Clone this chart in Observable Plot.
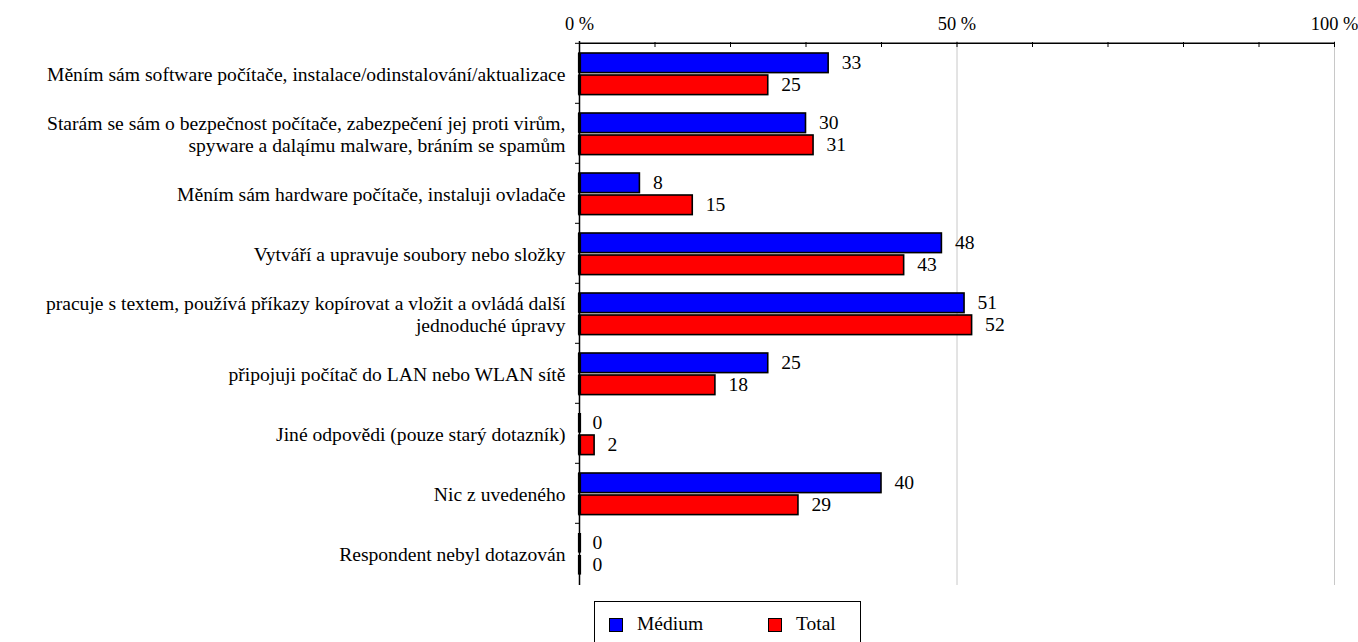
<!DOCTYPE html>
<html><head><meta charset="utf-8">
<script src="https://cdn.jsdelivr.net/npm/d3@7"></script>
<script src="https://cdn.jsdelivr.net/npm/@observablehq/plot@0.6"></script>
<style>
body{margin:0;background:#fff;font-family:'Liberation Serif';}
#wrap{position:relative;width:1358px;height:642px;overflow:hidden;}
#legend{position:absolute;left:594px;top:601px;width:267px;height:60px;border:1.5px solid #000;box-sizing:border-box;font-size:19.5px;}
.sw{position:absolute;top:16px;width:14px;height:14px;border:1.5px solid #000;box-sizing:border-box;}
.lt{position:absolute;top:12px;line-height:1;}
</style></head>
<body><div id="wrap"><div id="chart"></div>
<div id="legend"></div></div>
<script>
const categories = [
  "Měním sám software počítače, instalace/odinstalování/aktualizace",
  "Starám se sám o bezpečnost počítače, zabezpečení jej proti virům,\nspyware a daląímu malware, bráním se spamům",
  "Měním sám hardware počítače, instaluji ovladače",
  "Vytváří a upravuje soubory nebo složky",
  "pracuje s textem, používá příkazy kopírovat a vložit a ovládá další\njednoduché úpravy",
  "připojuji počítač do LAN nebo WLAN sítě",
  "Jiné odpovědi (pouze starý dotazník)",
  "Nic z uvedeného",
  "Respondent nebyl dotazován"
];
const seriesNames = ["Médium", "Total"];
const seriesColors = ["#0000ff", "#ff0000"];
const medium = [33, 30, 8, 48, 51, 25, 0, 40, 0];
const total = [25, 31, 15, 43, 52, 18, 2, 29, 0];
const xTicks = [0, 10, 20, 30, 40, 50, 60, 70, 80, 90, 100];
const xLabels = [0, 50, 100];

const med = categories.map((c, i) => ({cat: c, v: medium[i]}));
const tot = categories.map((c, i) => ({cat: c, v: total[i]}));

const font = "'Liberation Serif'";
const fs = 19.6;
const barStyle = [
  {insetTop: 10, insetBottom: 30.4, dy: -10.5},
  {insetTop: 32, insetBottom: 8.4, dy: 11.5}
];

function series(data, k) {
  const s = barStyle[k];
  return [
    Plot.barX(data, {x: "v", y: "cat", fill: seriesColors[k], stroke: "#000", strokeWidth: 1.6, insetTop: s.insetTop, insetBottom: s.insetBottom}),
    Plot.tickX(data, {x: 0, y: "cat", stroke: "#000", strokeWidth: 3.2, insetTop: s.insetTop, insetBottom: s.insetBottom}),
    Plot.text(data, {x: "v", y: "cat", text: d => String(d.v), dx: 13, dy: s.dy, textAnchor: "start", fontSize: fs, fill: "#000"})
  ];
}

const chart = Plot.plot({
  width: 1358,
  height: 595,
  marginLeft: 579,
  marginRight: 24,
  marginTop: 41,
  marginBottom: 10,
  style: {fontFamily: font, fontSize: fs + "px", color: "#000", background: "#fff", overflow: "visible"},
  x: {domain: [0, 100]},
  y: {domain: categories, padding: 0},
  marks: [
    Plot.ruleX(xLabels.filter(d => d > 0), {x: d => d, stroke: "#c8c8c8", strokeWidth: 1}),
    Plot.axisX(xTicks, {anchor: "top", tickSize: -5, text: null, label: null, stroke: "#000"}),
    Plot.axisX(xLabels, {anchor: "top", tickSize: 0, tickPadding: 12, tickFormat: d => d + " %", fontSize: 18.4, fill: "#000", label: null}),
    Plot.axisY({anchor: "left", tickSize: 4, dy: -30.2, text: null, label: null, stroke: "#000"}),
    Plot.axisY({anchor: "left", tickSize: 0, tickPadding: 14, fontSize: fs, fill: "#000", label: null, lineHeight: 1.12}),
    Plot.ruleY([0], {y: () => categories[0], x1: 0, x2: 100, dy: -30.2, stroke: "#000", strokeWidth: 1.5}),
    Plot.ruleX([0], {stroke: "#000", strokeWidth: 1.5}),
    ...series(med, 0),
    ...series(tot, 1)
  ]
});
document.getElementById("chart").appendChild(chart);

const lg = document.getElementById("legend");
const pos = [[14, 42], [173, 201]];
seriesNames.forEach((n, i) => {
  const sw = document.createElement("div");
  sw.className = "sw"; sw.style.left = pos[i][0] + "px"; sw.style.background = seriesColors[i];
  const t = document.createElement("div");
  t.className = "lt"; t.style.left = pos[i][1] + "px"; t.textContent = n;
  lg.appendChild(sw); lg.appendChild(t);
});
</script></body></html>
